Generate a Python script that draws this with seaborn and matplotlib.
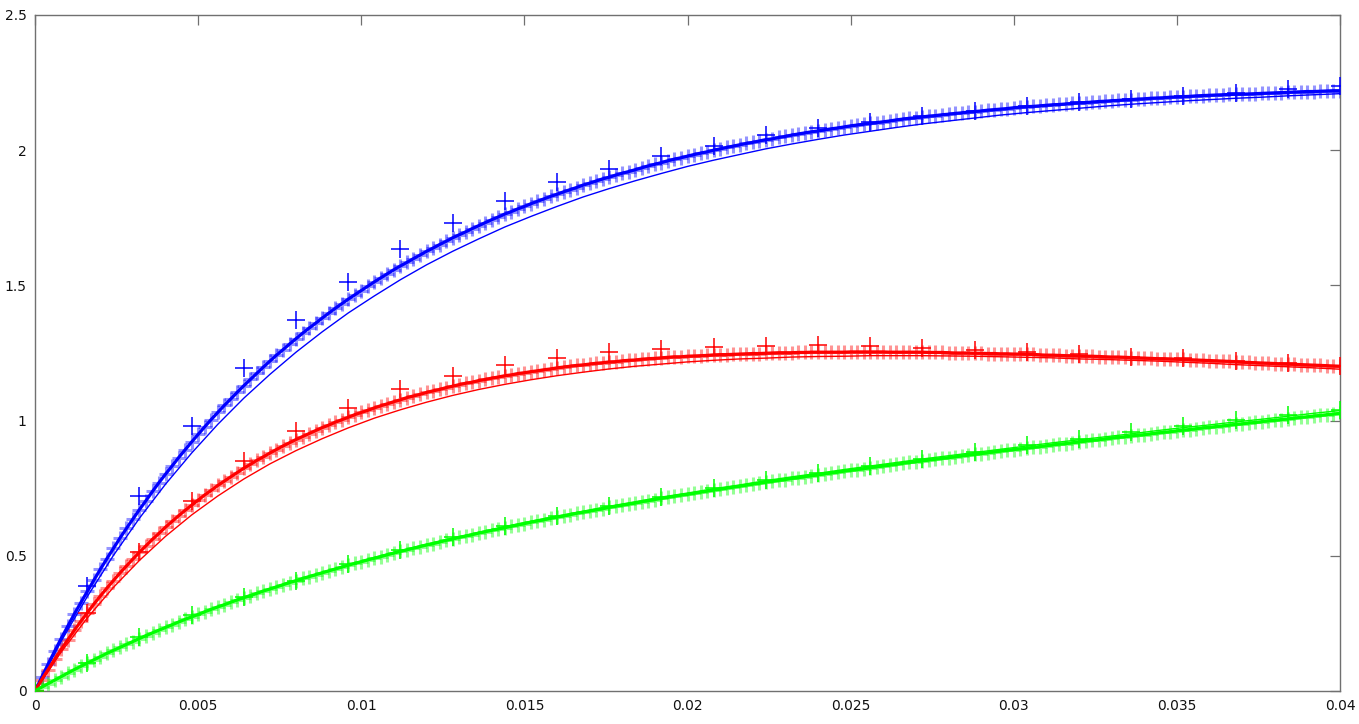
import numpy as np
import matplotlib
matplotlib.use("Agg")
import matplotlib.pyplot as plt
import seaborn as sns

# --- data (x in s, y in model units) ---
# dense series: 201 samples, step 0.0002
x_dense = np.linspace(0.0, 0.04, 201)
# thin model lines: 51 samples, step 0.0008
x_thin = np.linspace(0.0, 0.04, 51)
# sparse measurements: 26 samples, step 0.0016
x_sparse = np.linspace(0.0, 0.04, 26)

blue_dense = [
    0.000, 0.050, 0.099, 0.147, 0.194, 0.239, 0.284, 0.326, 0.368, 0.409,
    0.450, 0.489, 0.527, 0.565, 0.601, 0.636, 0.671, 0.704, 0.738, 0.771,
    0.802, 0.832, 0.863, 0.892, 0.921, 0.949, 0.977, 1.004, 1.030, 1.056,
    1.080, 1.105, 1.129, 1.152, 1.175, 1.198, 1.220, 1.242, 1.262, 1.283,
    1.303, 1.323, 1.342, 1.360, 1.379, 1.397, 1.415, 1.432, 1.449, 1.465,
    1.481, 1.497, 1.513, 1.528, 1.543, 1.558, 1.572, 1.585, 1.599, 1.612,
    1.626, 1.638, 1.651, 1.663, 1.676, 1.687, 1.698, 1.710, 1.721, 1.732,
    1.743, 1.753, 1.764, 1.773, 1.783, 1.792, 1.802, 1.811, 1.820, 1.829,
    1.837, 1.846, 1.854, 1.862, 1.871, 1.878, 1.886, 1.894, 1.900, 1.908,
    1.915, 1.921, 1.928, 1.935, 1.942, 1.948, 1.954, 1.961, 1.967, 1.972,
    1.978, 1.984, 1.989, 1.994, 2.000, 2.005, 2.010, 2.015, 2.020, 2.025,
    2.029, 2.034, 2.039, 2.042, 2.047, 2.051, 2.056, 2.060, 2.064, 2.068,
    2.071, 2.075, 2.079, 2.082, 2.086, 2.090, 2.093, 2.096, 2.099, 2.102,
    2.105, 2.108, 2.112, 2.115, 2.118, 2.120, 2.123, 2.126, 2.128, 2.131,
    2.133, 2.136, 2.138, 2.141, 2.143, 2.145, 2.148, 2.150, 2.152, 2.154,
    2.157, 2.159, 2.161, 2.162, 2.164, 2.166, 2.168, 2.169, 2.171, 2.173,
    2.175, 2.176, 2.178, 2.180, 2.181, 2.183, 2.184, 2.186, 2.187, 2.189,
    2.190, 2.192, 2.193, 2.194, 2.196, 2.197, 2.198, 2.199, 2.201, 2.202,
    2.203, 2.204, 2.205, 2.206, 2.207, 2.207, 2.208, 2.209, 2.210, 2.211,
    2.212, 2.213, 2.214, 2.215, 2.216, 2.217, 2.217, 2.218, 2.219, 2.220,
    2.220,
]

red_dense = [
    0.000, 0.041, 0.079, 0.117, 0.154, 0.189, 0.224, 0.257, 0.289, 0.321,
    0.351, 0.380, 0.408, 0.436, 0.462, 0.488, 0.513, 0.537, 0.561, 0.583,
    0.606, 0.627, 0.648, 0.668, 0.687, 0.706, 0.725, 0.742, 0.760, 0.776,
    0.792, 0.808, 0.824, 0.838, 0.853, 0.866, 0.880, 0.893, 0.906, 0.918,
    0.930, 0.941, 0.952, 0.963, 0.974, 0.983, 0.994, 1.003, 1.012, 1.022,
    1.030, 1.038, 1.047, 1.055, 1.062, 1.070, 1.077, 1.085, 1.091, 1.097,
    1.104, 1.110, 1.115, 1.122, 1.127, 1.133, 1.138, 1.142, 1.148, 1.152,
    1.157, 1.161, 1.166, 1.169, 1.174, 1.177, 1.181, 1.184, 1.188, 1.191,
    1.195, 1.198, 1.201, 1.204, 1.206, 1.209, 1.212, 1.214, 1.217, 1.218,
    1.221, 1.223, 1.224, 1.227, 1.229, 1.230, 1.232, 1.234, 1.236, 1.236,
    1.238, 1.239, 1.240, 1.241, 1.243, 1.244, 1.244, 1.245, 1.246, 1.247,
    1.248, 1.248, 1.249, 1.250, 1.251, 1.251, 1.251, 1.252, 1.252, 1.253,
    1.253, 1.253, 1.253, 1.253, 1.253, 1.254, 1.254, 1.254, 1.254, 1.254,
    1.254, 1.253, 1.253, 1.253, 1.253, 1.253, 1.253, 1.252, 1.252, 1.252,
    1.251, 1.250, 1.250, 1.250, 1.249, 1.249, 1.248, 1.248, 1.247, 1.247,
    1.246, 1.246, 1.245, 1.245, 1.243, 1.242, 1.242, 1.241, 1.240, 1.240,
    1.239, 1.238, 1.238, 1.237, 1.236, 1.235, 1.235, 1.234, 1.233, 1.232,
    1.231, 1.230, 1.229, 1.229, 1.228, 1.227, 1.226, 1.225, 1.224, 1.223,
    1.222, 1.221, 1.220, 1.219, 1.218, 1.216, 1.215, 1.214, 1.213, 1.212,
    1.211, 1.210, 1.209, 1.208, 1.207, 1.206, 1.205, 1.204, 1.203, 1.202,
    1.201,
]

green_dense = [
    0.000, 0.014, 0.027, 0.040, 0.053, 0.066, 0.079, 0.091, 0.103, 0.115,
    0.127, 0.139, 0.150, 0.161, 0.172, 0.183, 0.194, 0.205, 0.215, 0.225,
    0.235, 0.245, 0.255, 0.265, 0.274, 0.283, 0.293, 0.302, 0.311, 0.319,
    0.328, 0.337, 0.345, 0.353, 0.361, 0.370, 0.377, 0.385, 0.393, 0.401,
    0.408, 0.416, 0.423, 0.430, 0.437, 0.444, 0.451, 0.458, 0.465, 0.472,
    0.478, 0.485, 0.491, 0.497, 0.504, 0.510, 0.516, 0.522, 0.528, 0.534,
    0.540, 0.545, 0.551, 0.557, 0.562, 0.568, 0.573, 0.578, 0.584, 0.589,
    0.594, 0.599, 0.604, 0.609, 0.614, 0.619, 0.624, 0.629, 0.633, 0.638,
    0.643, 0.647, 0.652, 0.657, 0.661, 0.665, 0.670, 0.674, 0.679, 0.683,
    0.687, 0.691, 0.695, 0.700, 0.704, 0.708, 0.712, 0.716, 0.720, 0.724,
    0.727, 0.731, 0.735, 0.739, 0.743, 0.746, 0.750, 0.754, 0.757, 0.761,
    0.765, 0.768, 0.772, 0.775, 0.779, 0.782, 0.786, 0.789, 0.793, 0.796,
    0.799, 0.803, 0.806, 0.809, 0.813, 0.816, 0.819, 0.822, 0.826, 0.829,
    0.832, 0.835, 0.838, 0.842, 0.845, 0.848, 0.851, 0.854, 0.857, 0.860,
    0.863, 0.866, 0.869, 0.872, 0.875, 0.878, 0.881, 0.884, 0.887, 0.890,
    0.893, 0.895, 0.898, 0.901, 0.904, 0.907, 0.910, 0.913, 0.915, 0.918,
    0.921, 0.924, 0.927, 0.929, 0.932, 0.935, 0.938, 0.940, 0.943, 0.946,
    0.948, 0.951, 0.954, 0.957, 0.959, 0.962, 0.965, 0.967, 0.970, 0.973,
    0.975, 0.978, 0.980, 0.983, 0.986, 0.988, 0.991, 0.993, 0.996, 0.999,
    1.001, 1.004, 1.006, 1.009, 1.012, 1.014, 1.017, 1.019, 1.022, 1.024,
    1.027,
]

blue_thin = [
    0.000, 0.184, 0.349, 0.501, 0.639, 0.765, 0.880, 0.986, 1.083, 1.171,
    1.253, 1.328, 1.398, 1.461, 1.521, 1.576, 1.626, 1.672, 1.716, 1.755,
    1.792, 1.827, 1.858, 1.887, 1.914, 1.940, 1.963, 1.984, 2.005, 2.023,
    2.040, 2.056, 2.070, 2.084, 2.097, 2.108, 2.119, 2.130, 2.139, 2.147,
    2.155, 2.163, 2.170, 2.176, 2.182, 2.187, 2.192, 2.196, 2.201, 2.205,
    2.209,
]

red_thin = [
    0.000, 0.144, 0.270, 0.383, 0.483, 0.572, 0.651, 0.721, 0.784, 0.840,
    0.889, 0.933, 0.973, 1.009, 1.040, 1.068, 1.093, 1.115, 1.134, 1.151,
    1.166, 1.179, 1.191, 1.201, 1.209, 1.217, 1.223, 1.228, 1.231, 1.235,
    1.237, 1.238, 1.240, 1.240, 1.240, 1.239, 1.238, 1.236, 1.234, 1.232,
    1.228, 1.226, 1.223, 1.220, 1.216, 1.212, 1.207, 1.203, 1.199, 1.195,
    1.190,
]

green_thin = [
    0.000, 0.053, 0.103, 0.151, 0.195, 0.236, 0.275, 0.312, 0.347, 0.379,
    0.410, 0.439, 0.467, 0.494, 0.519, 0.543, 0.565, 0.587, 0.608, 0.628,
    0.647, 0.665, 0.683, 0.700, 0.717, 0.732, 0.748, 0.762, 0.778, 0.792,
    0.805, 0.819, 0.832, 0.845, 0.858, 0.870, 0.882, 0.894, 0.906, 0.918,
    0.929, 0.940, 0.951, 0.963, 0.974, 0.984, 0.995, 1.005, 1.016, 1.027,
    1.037,
]

blue_sparse = [
    0.000, 0.390, 0.720, 0.980, 1.195, 1.372, 1.513, 1.635, 1.731, 1.812,
    1.882, 1.932, 1.978, 2.016, 2.055, 2.082, 2.104, 2.126, 2.146, 2.163,
    2.178, 2.189, 2.200, 2.210, 2.225, 2.237,
]

red_sparse = [
    0.000, 0.290, 0.514, 0.703, 0.850, 0.960, 1.047, 1.117, 1.165, 1.206,
    1.232, 1.252, 1.264, 1.272, 1.277, 1.278, 1.274, 1.268, 1.262, 1.255,
    1.248, 1.236, 1.230, 1.222, 1.212, 1.202,
]

green_sparse = [
    0.000, 0.102, 0.199, 0.281, 0.349, 0.406, 0.468, 0.522, 0.568, 0.610,
    0.648, 0.685, 0.718, 0.749, 0.779, 0.806, 0.833, 0.859, 0.884, 0.909,
    0.933, 0.957, 0.980, 1.002, 1.022, 1.038,
]

x_ticks = [0, 0.005, 0.01, 0.015, 0.02, 0.025, 0.03, 0.035, 0.04]
x_tick_labels = ["0", "0.005", "0.01", "0.015", "0.02", "0.025", "0.03", "0.035", "0.04"]
y_ticks = [0, 0.5, 1, 1.5, 2, 2.5]
y_tick_labels = ["0", "0.5", "1", "1.5", "2", "2.5"]

series = [
    ("#0000ff", blue_dense, blue_thin, blue_sparse),
    ("#ff0000", red_dense, red_thin, red_sparse),
    ("#00ff00", green_dense, green_thin, green_sparse),
]

sns.set_style("white")
plt.rcParams['font.family'] = ['DejaVu Sans']

fig = plt.figure(figsize=(13.59, 7.24), dpi=100)
ax = fig.add_axes([0.0258, 0.0456, 0.9602, 0.9337])

# dense simulated points: light "+" markers forming a band
for color, dense, thin, sparse in series:
    sns.scatterplot(x=x_dense, y=dense, ax=ax, marker='+', s=100,
                    linewidth=2.2, color=color, alpha=0.42, legend=False,
                    zorder=2)

# model curves: thick through the dense points, thin one alongside
for color, dense, thin, sparse in series:
    sns.lineplot(x=x_dense, y=dense, ax=ax, color=color, linewidth=2.3,
                 estimator=None, sort=False, legend=False, zorder=3)
    sns.lineplot(x=x_thin, y=thin, ax=ax, color=color, linewidth=1.0,
                 estimator=None, sort=False, legend=False, zorder=3)

# sparse measurements: larger "+" markers
for color, dense, thin, sparse in series:
    sns.scatterplot(x=x_sparse, y=sparse, ax=ax, marker='+', s=170,
                    linewidth=1.1, color=color, legend=False, zorder=4)

ax.set_xlim(0, 0.04)
ax.set_ylim(0, 2.5)
ax.set_xticks(x_ticks)
ax.set_xticklabels(x_tick_labels)
ax.set_yticks(y_ticks)
ax.set_yticklabels(y_tick_labels)
ax.set_xlabel("")
ax.set_ylabel("")

for side in ['left', 'right', 'top', 'bottom']:
    ax.spines[side].set_visible(True)
    ax.spines[side].set_color('#707070')
    ax.spines[side].set_linewidth(1.0)

ax.tick_params(axis='both', which='major', direction='in', length=7,
               width=0.9, color='#707070', labelsize=10, labelcolor='#111111',
               top=True, right=True, pad=6)

fig.savefig("out.png", dpi=100, facecolor='white')
plt.close(fig)
